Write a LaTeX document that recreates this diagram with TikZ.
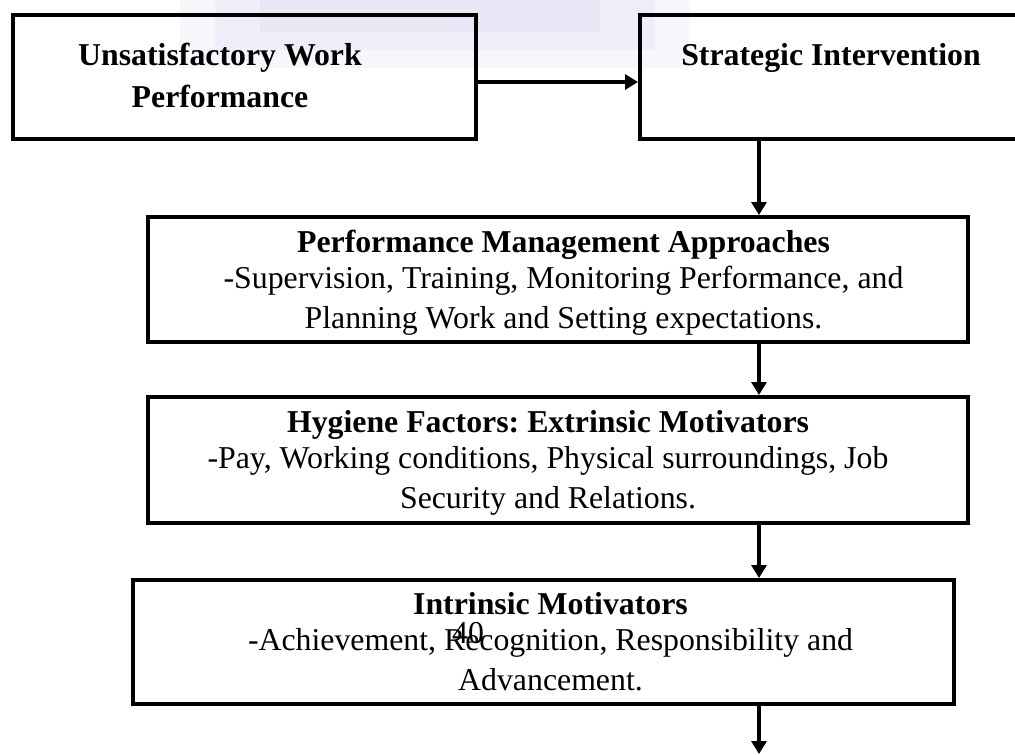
\documentclass[tikz,border=0pt]{standalone}
\usepackage{fontspec}
\setmainfont{Liberation Serif}
\usetikzlibrary{arrows.meta}
\frenchspacing

\definecolor{wmarkA}{RGB}{246,246,251}
\definecolor{wmarkB}{RGB}{239,238,248}
\definecolor{wmarkC}{RGB}{232,231,245}

\tikzset{
  box/.style={draw, line width=4pt, rectangle, inner sep=0pt},
  flow/.style={line width=4pt, -{Triangle[length=13pt, width=15pt]}},
  head/.style={anchor=base, inner sep=0pt, font=\fontsize{31.8}{38}\selectfont\bfseries},
  body/.style={anchor=base, inner sep=0pt, font=\fontsize{31.8}{38}\selectfont}
}

\begin{document}
\begin{tikzpicture}[x=1pt, y=-1pt]

\useasboundingbox (0,0) rectangle (1015,755);
\clip (0,0) rectangle (1015,755);

% faint mark behind the top row
\fill[wmarkA] (180,0) rectangle (690,68);
\fill[wmarkB] (215,0) rectangle (655,50);
\fill[wmarkC] (260,0) rectangle (600,32);

% boxes
\node[box, minimum width=463, minimum height=124] (unsat) at (244.5,77) {};
\node[box, minimum width=390, minimum height=124] (strat) at (835,77) {};
\node[box, minimum width=820, minimum height=125] (perf)  at (558,279.5) {};
\node[box, minimum width=820, minimum height=126] (hyg)   at (558,460) {};
\node[box, minimum width=821, minimum height=124] (intr)  at (543.5,642) {};

% texts
\node[head] (unsatA) at (220,65)  {Unsatisfactory Work};
\node[head] (unsatB) at (220,107) {Performance};

\node[head] (stratA) at (831,65) {Strategic Intervention};

\node[head] (perfA) at (563.5,252) {Performance Management Approaches};
\node[body] (perfB) at (563.5,288) {-Supervision, Training, Monitoring Performance, and};
\node[body] (perfC) at (563.5,328) {Planning Work and Setting expectations.};

\node[head] (hygA) at (548,432) {Hygiene Factors: Extrinsic Motivators};
\node[body] (hygB) at (548,468) {-Pay, Working conditions, Physical surroundings, Job};
\node[body] (hygC) at (548,508) {Security and Relations.};

\node[head] (intrA) at (550.5,614) {Intrinsic Motivators};
\node[body] (intrB) at (550.5,650) {-Achievement, Recognition, Responsibility and};
\node[body] (intrC) at (550.5,690) {Advancement.};

\node[body] (pageno) at (468,643) {40};

% arrows
\coordinate (spine) at (759,0);
\coordinate (exit) at (759,754);

\draw[flow] ([yshift=-5pt]unsat.east) -- ([yshift=-5pt]strat.west);
\draw[flow] (strat.south -| spine) -- (perf.north -| spine);
\draw[flow] (perf.south -| spine) -- (hyg.north -| spine);
\draw[flow] (hyg.south -| spine) -- (intr.north -| spine);
\draw[flow] (intr.south -| spine) -- (exit);

\end{tikzpicture}
\end{document}
